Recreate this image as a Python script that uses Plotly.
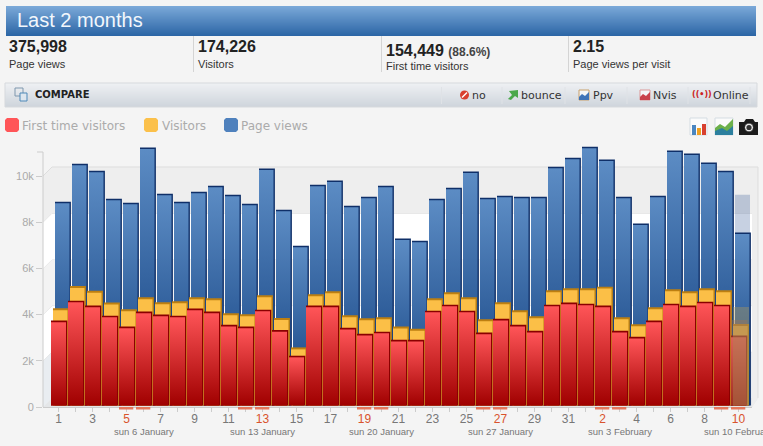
import plotly.graph_objects as go

days = list(range(1, 42))
day_names = list(range(1, 32)) + list(range(1, 11))
red_label_days = [5, 13, 19, 27, 33, 41]
tick_labels = []
for i, n in zip(days, day_names):
    if i % 2 == 1:
        tick_labels.append(f"<span style='color:#d9532c'>{n}</span>" if i in red_label_days else str(n))
    else:
        tick_labels.append("")

page_views = [8.89,10.53,10.23,9.02,8.84,11.23,9.23,8.89,9.32,9.58,9.19,8.80,10.32,8.54,6.98,9.62,9.80,8.71,9.10,9.58,7.29,
              7.20,9.02,9.49,10.19,9.06,9.15,9.10,9.10,10.40,10.79,11.27,10.71,9.10,7.94,9.15,11.10,10.97,10.58,10.23,7.55]
visitors = [4.27,5.24,5.03,4.52,4.23,4.75,4.53,4.58,4.75,4.71,4.06,4.01,4.84,3.85,2.58,4.88,5.01,3.97,3.84,3.88,3.48,
            3.39,4.71,4.97,4.75,3.80,4.53,4.19,3.93,5.05,5.14,5.14,5.21,3.88,3.58,4.32,5.10,5.01,5.14,5.05,3.59]
first_time = [3.74,4.60,4.39,3.95,3.48,4.13,4.00,3.95,4.26,4.13,3.56,3.48,4.21,3.33,2.22,4.39,4.39,3.43,3.17,3.26,2.91,
              2.91,4.17,4.43,4.17,3.22,3.82,3.56,3.30,4.43,4.52,4.47,4.39,3.30,3.04,3.74,4.47,4.39,4.56,4.43,3.09]
proj_day = [41]
proj_page_views = [9.19]
proj_visitors = [4.33]
proj_first_time = [3.77]
y_ticks = [0, 2, 4, 6, 8, 10]
y_labels = ["0", "2k", "4k", "6k", "8k", "10k"]
weekend_days = [5, 6, 12, 13, 19, 20, 26, 27, 33, 34, 40, 41]
week_days = [6, 13, 20, 27, 34, 41]
week_labels = ["sun 6 January", "sun 13 January", "sun 20 January", "sun 27 January", "sun 3 February", "sun 10 February"]

W, H = 763, 446
L, R, T, B = 43, 752, 146, 407
AXIS_TOP = 152
BG = "#f4f4f4"
def xp(x): return (x - L) / (R - L)
def yp(y): return 1 - (y - T) / (B - T)
def lerp(a, b, t):
    ca = [int(a[i:i+2], 16) for i in (1, 3, 5)]
    cb = [int(b[i:i+2], 16) for i in (1, 3, 5)]
    return "#%02x%02x%02x" % tuple(round(p + (q - p) * t) for p, q in zip(ca, cb))

shapes, annos = [], []
def rect(x0, y0, x1, y1, fill, line=None, lw=1, layer="below"):
    shapes.append(dict(type="rect", xref="paper", yref="paper", x0=xp(x0), x1=xp(x1), y0=yp(y0), y1=yp(y1),
                       fillcolor=fill, line=dict(color=line or fill, width=lw if line else 0), layer=layer))
def poly(pts, fill, line=None, lw=1, layer="below"):
    d = "M" + " L".join(f"{xp(a):.5f},{yp(b):.5f}" for a, b in pts) + " Z"
    shapes.append(dict(type="path", xref="paper", yref="paper", path=d, fillcolor=fill,
                       line=dict(color=line or fill, width=lw if line else 0), layer=layer))
def seg(x0, y0, x1, y1, color, width=1, layer="below"):
    shapes.append(dict(type="line", xref="paper", yref="paper", x0=xp(x0), x1=xp(x1), y0=yp(y0), y1=yp(y1),
                       line=dict(color=color, width=width), layer=layer))
def circle(cx, cy, r, fill, line=None, lw=1):
    shapes.append(dict(type="circle", xref="paper", yref="paper", x0=xp(cx-r), x1=xp(cx+r), y0=yp(cy+r), y1=yp(cy-r),
                       fillcolor=fill, line=dict(color=line or fill, width=lw if line else 0), layer="above"))
def text(x, y, s, size, color, font="Liberation Sans", anchor="left"):
    annos.append(dict(xref="paper", yref="paper", x=xp(x), y=yp(y), text=s, showarrow=False, xanchor=anchor, yanchor="middle",
                      font=dict(family=font, size=size, color=color), align="left", borderpad=0, borderwidth=0))

# page header
for i in range(30):
    rect(6, 6 + i, 756, 7 + i, lerp("#7aa8d8", "#2c66a6", i / 29))
text(17, 20, "Last 2 months", 20, "#f2f7fc")
for x in (193.5, 381.5, 568.5):
    seg(x, 36, x, 72, "#d4d4d4")
NUM = "#222222"
text(9, 47, "<b>375,998</b>", 16, NUM); text(9, 64, "Page views", 11, "#333333")
text(198, 47, "<b>174,226</b>", 16, NUM); text(198, 64, "Visitors", 11, "#333333")
text(386, 50, "<b>154,449</b> <span style='font-size:12px;color:#444'><b>(88.6%)</b></span>", 16, NUM)
text(386, 66, "First time visitors", 11, "#333333")
text(573, 47, "<b>2.15</b>", 16, NUM); text(573, 64, "Page views per visit", 11, "#333333")

# compare toolbar
for i in range(24):
    rect(5, 83 + i, 757, 84 + i, lerp("#eef0f3", "#cfd5dc", i / 23))
rect(5, 83, 757, 107, "rgba(0,0,0,0)", "#d6d9dd")
rect(15, 88, 23, 96, "rgba(0,0,0,0)", "#7e97ad", layer="above")
rect(20, 93, 27, 101, "#dde6ee", "#4f89b8", layer="above")
text(35, 95, "<b>COMPARE</b>", 10, "#222222", "DejaVu Sans")
for x in (441.5, 502, 565, 627, 688, 750):
    seg(x, 87, x, 104, "#dfe2e6")
for x, s in ((472, "no"), (521, "bounce"), (593, "Ppv"), (653, "Nvis"), (713, "Online")):
    text(x, 95.5, s, 11, "#333333", "DejaVu Sans")
circle(464.5, 95, 4.5, "#d9402f")
seg(462, 97.5, 467, 92.5, "#ffffff", 1.4, "above")
poly([(508, 99), (512, 95), (509, 91), (518, 90), (518, 98), (515, 96), (511, 100)], "#4aa84a", layer="above")
for x0, col, edge in ((579, "#3f74b8", "#c9a06a"), (640, "#c9414b", "#dd9999")):
    rect(x0, 90, x0 + 10, 100, "#f4f6f8", edge, layer="above")
    poly([(x0, 100), (x0, 97), (x0 + 3, 94), (x0 + 6, 96), (x0 + 10, 92), (x0 + 10, 100)], col, layer="above")
text(692, 94.5, "<b>((•))</b>", 8, "#cc2222", "DejaVu Sans")

# legend
for x0, col, tx, s in ((5, "#ff5558", 22, "First time visitors"), (144, "#fbc04a", 162, "Visitors"), (224, "#4f81bd", 241, "Page views")):
    poly([(x0+2,118),(x0+12,118),(x0+14,120),(x0+14,130),(x0+12,132),(x0+2,132),(x0,130),(x0,120)], col)
    text(tx, 125.5, s, 12, "#ababab", "DejaVu Sans")

# top-right icons
rect(690, 118, 707, 135, "#fbfbfb", "#d5dde3", layer="above")
for x0, c, y0 in ((692, "#4a86c0", 125), (697, "#f0a020", 128), (702, "#d8402f", 124)):
    rect(x0, y0, x0 + 4, 135, c, layer="above")
rect(715, 118, 733, 135, "#fbfbfb", "#d5dde3", layer="above")
poly([(715, 135), (715, 128), (720, 124), (725, 127), (733, 119), (733, 135)], "#6cb04a", layer="above")
poly([(715, 135), (715, 131), (722, 128), (727, 131), (733, 126), (733, 135)], "#2b7f9e", layer="above")
poly([(739, 122), (744, 122), (746, 119), (753, 119), (755, 122), (758, 122), (758, 135), (739, 135)], "#1c1c1c", layer="above")
circle(749, 127.5, 4.5, "#e8e8e8", "#1c1c1c", 1)
circle(749, 127.5, 2.6, "#333333")

# 3-D walls of the chart
BAND = ["#e9edf1", "#ffffff", "#f3f3f3", "#ffffff", "#eeeeee"]
k = 23.1
for i, col in enumerate(BAND):
    y0, y1 = 398 - i * 2 * k, 398 - (i + 1) * 2 * k
    rect(52, y0, 758, y1, col)
    poly([(43, y0 + 9), (52, y0), (52, y1), (43, y1 + 9)], col)
    seg(52, y1, 758, y1, "#dddddd")
    seg(43, y1 + 9, 52, y1, "#dddddd")
poly([(43, 407), (52, 398), (758, 398), (752, 407)], "#e4e6e8")
poly([(752, 407), (758, 398), (758, 167), (752, 176)], "#eeeeee")
seg(758, 398, 758, 167, "#dddddd")

# front axis line, which stops below the tallest bars
seg(L, AXIS_TOP, L, B, "#cccccc")
seg(L - 6, AXIS_TOP, L, AXIS_TOP, "#cccccc")

# weekend markers below the axis
for d in weekend_days:
    shapes.append(dict(type="rect", xref="x", yref="paper", x0=d - 0.44, x1=d + 0.40, y0=yp(407), y1=yp(409.5),
                       fillcolor="#e5775c", line=dict(width=0), layer="above"))

for d, s in zip(week_days, week_labels):
    annos.append(dict(xref="x", yref="paper", x=d, y=yp(431), text=s, showarrow=False, xanchor="center", yanchor="middle",
                      font=dict(family="Liberation Sans", size=9.5, color="#777777")))

PX = 1 / 17
BASE = 0.07
def layer(values, left, width, dark, front, cap, depth):
    return [
        go.Bar(x=days, y=[v - BASE for v in values], base=BASE, offset=left * PX, width=(width + depth) * PX,
               marker=dict(color=dark, line=dict(width=0)), cliponaxis=False, hoverinfo="skip"),
        go.Bar(x=days, y=[v - cap - BASE for v in values], base=BASE, offset=left * PX, width=width * PX,
               marker=dict(color=front, line=dict(width=0)), cliponaxis=False),
    ]

traces = [go.Bar(x=proj_day, y=[v - BASE for v in proj_page_views], base=BASE, offset=-3.5 * PX, width=15 * PX,
                 marker=dict(color="rgba(55,90,150,0.28)", line=dict(width=0)), cliponaxis=False, hoverinfo="skip")]
traces += layer(page_views, -3.5, 14.5, "#0f2f68", "#4f7fb8", 0.065, 1.4)
traces += layer(visitors, -5.5, 14.5, "#bd7f10", "#fbbf47", 0.085, 1.4)
traces += layer(first_time, -7.5, 15, "#8a0000", "#f04848", 0.07, 1.3)
traces += [
    go.Bar(x=proj_day, y=[v - BASE for v in proj_visitors], base=BASE, offset=-5.5 * PX, width=16 * PX,
           marker=dict(color="rgba(170,150,90,0.42)", line=dict(width=0)), cliponaxis=False, hoverinfo="skip"),
    go.Bar(x=proj_day, y=[v - BASE for v in proj_first_time], base=BASE, offset=-7.5 * PX, width=16.5 * PX,
           marker=dict(color="rgba(165,115,85,0.38)", line=dict(width=0)), cliponaxis=False, hoverinfo="skip"),
]

fig = go.Figure(traces)
fig.update_layout(
    width=W, height=H, autosize=False, margin=dict(l=L, r=W - R, t=T, b=H - B, pad=0),
    paper_bgcolor=BG, plot_bgcolor="rgba(0,0,0,0)", barmode="overlay", showlegend=False,
    shapes=shapes, annotations=annos, font=dict(family="Liberation Sans"),
    xaxis=dict(range=[1 + (L - 58.5) / 17, 1 + (R - 58.5) / 17], tickmode="array", tickvals=days, ticktext=tick_labels,
               ticks="outside", ticklen=4, tickcolor="#cccccc", showgrid=False, zeroline=False, showline=True,
               linecolor="#cccccc", tickfont=dict(size=12, color="#777777"), tickangle=0, fixedrange=True,
               ticklabelstandoff=-3),
    yaxis=dict(range=[0, (B - T) / 23.1], tickmode="array", tickvals=y_ticks, ticktext=y_labels, ticks="outside", ticklen=6,
               tickcolor="#cccccc", showgrid=False, zeroline=False, showline=False,
               tickfont=dict(size=11, color="#aaaaaa"), fixedrange=True),
)

post = """
document.body.style.margin = '0';
document.body.style.background = '#f4f4f4';
var gd = document.getElementById('{plot_id}');
var svg = gd.querySelector('svg.main-svg');
var NS = 'http://www.w3.org/2000/svg';
var defs = document.createElementNS(NS, 'defs');
function grad(id, stops) {
  var g = document.createElementNS(NS, 'linearGradient');
  g.setAttribute('id', id); g.setAttribute('x1', '0'); g.setAttribute('y1', '0'); g.setAttribute('x2', '0'); g.setAttribute('y2', '1');
  stops.forEach(function (s) {
    var st = document.createElementNS(NS, 'stop');
    st.setAttribute('offset', s[0]); st.setAttribute('stop-color', s[1]); g.appendChild(st);
  });
  defs.appendChild(g);
}
grad('gBlue', [[0, '#5c8cc4'], [1, '#0e3c7c']]);
grad('gRed', [[0, '#ff5558'], [1, '#a00000']]);
svg.insertBefore(defs, svg.firstChild);
var tr = gd.querySelectorAll('.barlayer .trace');
function paint(i, id) {
  tr[i].querySelectorAll('path').forEach(function (p) { p.style.fill = 'url(#' + id + ')'; });
}
paint(2, 'gBlue');
paint(6, 'gRed');
"""
fig.write_html("out.html", post_script=post, config=dict(displayModeBar=False))
